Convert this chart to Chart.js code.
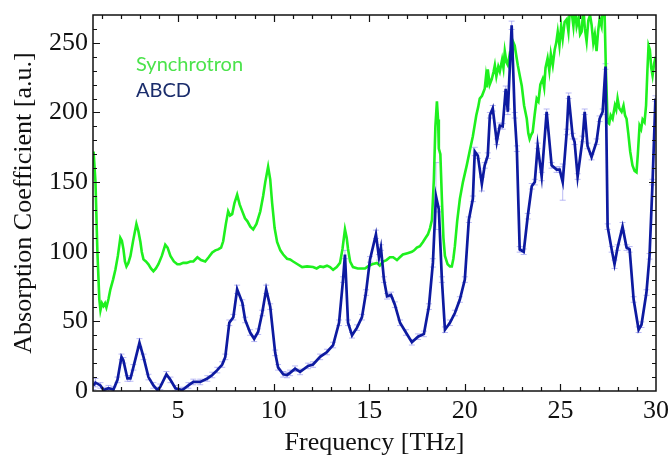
<!DOCTYPE html>
<html>
<head>
<meta charset="utf-8">
<script src="https://cdn.jsdelivr.net/npm/chart.js@4.4.0/dist/chart.umd.min.js"></script>
<style>
  html, body { margin: 0; padding: 0; background: #ffffff; }
</style>
</head>
<body>
<canvas id="chart" width="671" height="467"></canvas>
<script>
// Synchrotron spectrum (green)
const synFreq = [0.58, 0.68, 0.78, 0.88, 0.94, 1.02, 1.10, 1.18, 1.25, 1.36, 1.46, 1.60, 1.72, 1.85, 1.98, 2.06, 2.14, 2.22, 2.30, 2.40,
  2.51, 2.65, 2.82, 2.92, 3.03, 3.10, 3.19, 3.32, 3.45, 3.58, 3.71, 3.84, 3.97, 4.15, 4.33, 4.45, 4.60, 4.78, 4.96, 5.10,
  5.27, 5.45, 5.64, 5.80, 6.01, 6.20, 6.42, 6.60, 6.79, 6.95, 7.10, 7.25, 7.36, 7.50, 7.62, 7.72, 7.83, 7.95, 8.09, 8.22,
  8.36, 8.50, 8.62, 8.78, 8.93, 9.10, 9.30, 9.45, 9.56, 9.71, 9.82, 9.92, 10.05, 10.18, 10.35, 10.50, 10.70, 10.86, 11.02, 11.25,
  11.49, 11.75, 12.06, 12.25, 12.43, 12.60, 12.79, 12.95, 13.11, 13.30, 13.47, 13.60, 13.73, 13.82, 13.89, 14.00, 14.15, 14.40, 14.62, 14.78,
  14.93, 15.15, 15.40, 15.55, 15.72, 15.90, 16.08, 16.25, 16.45, 16.60, 16.76, 17.00, 17.23, 17.35, 17.49, 17.65, 17.81, 17.95, 18.07, 18.18,
  18.28, 18.38, 18.46, 18.54, 18.60, 18.64, 18.72, 18.80, 18.88, 18.96, 19.10, 19.22, 19.32, 19.40, 19.48, 19.60, 19.74, 19.90, 20.10, 20.25,
  20.42, 20.60, 20.70, 20.78, 20.90, 21.04, 21.10, 21.15, 21.20, 21.30, 21.41, 21.50, 21.57, 21.65, 21.75, 21.83, 21.95, 22.02, 22.09, 22.18,
  22.25, 22.35, 22.45, 22.55, 22.61, 22.70, 22.77, 22.88, 22.98, 23.10, 23.24, 23.32, 23.39, 23.47, 23.55, 23.65, 23.76, 23.85, 23.95, 24.07,
  24.15, 24.22, 24.33, 24.42, 24.50, 24.60, 24.70, 24.78, 24.86, 24.95, 25.04, 25.12, 25.22, 25.33, 25.42, 25.50, 25.59, 25.68, 25.76, 25.85,
  25.95, 26.03, 26.11, 26.20, 26.28, 26.37, 26.46, 26.55, 26.63, 26.72, 26.80, 26.89, 26.97, 27.05, 27.15, 27.22, 27.31, 27.38, 27.47, 27.55,
  27.63, 27.73, 27.85, 27.92, 27.99, 28.08, 28.20, 28.30, 28.38, 28.46, 28.55, 28.65, 28.77, 28.88, 28.98, 29.05, 29.14, 29.22, 29.30, 29.40,
  29.48, 29.55, 29.61, 29.68, 29.75, 29.82, 29.90, 29.98];
const synValues = [172, 150, 100, 66, 58, 63, 61, 63, 60, 66, 73, 80, 87, 97, 110, 108, 102, 93, 89.5, 92,
  97, 108, 120, 115, 107, 100, 94.5, 93, 91, 88, 86, 88, 91, 97, 105, 103, 97, 93, 91, 91,
  92, 92, 93, 93, 96, 94, 93, 96, 99.5, 101, 101.7, 103, 107.5, 120, 129, 126, 127, 135, 141, 134,
  129, 124, 122, 118, 116, 120, 129, 140, 150, 161, 152, 135, 117, 107, 101, 98, 95, 94.5, 93, 91,
  89, 89.5, 89, 88, 89.5, 89, 90, 89, 87, 89, 92, 102, 116, 110, 102, 93, 89, 88, 88, 88,
  89.5, 91, 92, 90, 93, 94, 96, 96, 94, 96, 98, 99, 100, 101, 103, 104, 107, 110, 112.5, 117,
  123, 152, 190, 208, 195, 174, 170, 138, 110, 97, 91, 89.5, 89.5, 95, 104, 122, 138, 150, 162, 172,
  183, 198, 204, 210, 212, 217, 225, 218, 231, 220, 224, 229, 234, 226, 233, 229.5, 238, 232, 244, 236,
  234, 242, 240, 250, 248, 240, 234, 226, 219, 205, 195.5, 185, 181, 184, 186, 198, 210, 208, 220, 224,
  218, 232, 239, 230, 242, 234, 245, 250, 258, 248, 262, 253, 265, 267, 258, 275, 272, 262, 275, 262,
  268, 256, 258, 275, 260, 251, 266, 270, 263, 250, 256, 244, 258, 267, 262, 278, 272, 230, 193, 192,
  198, 195.5, 205, 202, 210, 203, 200.5, 205, 198, 195.5, 185, 172, 162, 158, 157, 170, 190.5, 188, 195, 193,
  205, 230, 248, 245, 232, 226.5, 235, 240];

// ABCD spectrum (dark blue) with error bars
const abcdFreq = [0.57, 0.68, 0.94, 1.10, 1.36, 1.62, 1.83, 2.04, 2.14, 2.35, 2.51, 2.66, 2.98, 3.19, 3.45, 3.71, 3.92, 4.07, 4.39, 4.60,
  4.86, 5.22, 5.54, 5.80, 6.16, 6.53, 6.79, 7.05, 7.31, 7.47, 7.68, 7.89, 8.09, 8.36, 8.51, 8.77, 8.98, 9.19, 9.40, 9.61,
  9.82, 10.08, 10.23, 10.50, 10.70, 10.86, 11.12, 11.38, 11.80, 12.06, 12.43, 12.79, 13.11, 13.42, 13.63, 13.73, 13.89, 14.10, 14.36, 14.62,
  14.83, 15.04, 15.35, 15.51, 15.61, 15.77, 15.93, 16.14, 16.34, 16.61, 16.92, 17.23, 17.55, 17.86, 18.12, 18.33, 18.49, 18.64, 18.80, 18.96,
  19.22, 19.48, 19.74, 20.00, 20.21, 20.42, 20.52, 20.68, 20.89, 21.04, 21.20, 21.31, 21.46, 21.67, 21.83, 21.98, 22.14, 22.25, 22.45, 22.61,
  22.72, 22.87, 23.08, 23.29, 23.50, 23.66, 23.81, 24.02, 24.28, 24.54, 24.80, 24.96, 25.12, 25.33, 25.43, 25.64, 25.74, 25.90, 26.16, 26.27,
  26.42, 26.63, 26.89, 27.05, 27.21, 27.36, 27.47, 27.68, 27.83, 27.99, 28.25, 28.46, 28.62, 28.83, 29.09, 29.24, 29.50, 29.66, 29.82, 29.97];
const abcdValues = [4, 6, 4, 0.7, 2, 1, 8, 24.5, 22, 9, 9, 17, 34.6, 24.5, 10, 4, 0.7, 3, 12, 8,
  2, 0.7, 4, 6.5, 6.5, 9, 11.5, 15, 19, 24.5, 49, 53, 73, 63.5, 51, 42, 37.5, 42.6, 56, 73,
  60.6, 27.4, 17, 12, 11.5, 13, 16, 13.7, 18, 19, 24.5, 28, 33, 49, 80, 98, 49, 40, 45.5, 53,
  70.7, 94.5, 112.5, 96, 103, 80, 68, 69, 62, 49, 42, 35, 39, 41, 60.6, 92, 140, 130.6, 80, 44,
  49, 56, 65.7, 80, 123, 138, 172, 169, 148.6, 162, 169, 198, 203, 179, 190.5, 190, 217, 200.5, 262.6, 198,
  174, 101.7, 100, 125.5, 147, 150, 176, 154, 200.5, 162, 159, 159, 150, 186, 212, 183, 179, 154, 181, 200.5,
  176, 168, 179, 195.5, 200.5, 233, 118, 101.7, 91, 103, 118, 103, 101.7, 65.7, 44, 47.6, 70.7, 96.7, 150, 210];
const abcdErr = [3, 3, 2, 2, 2, 2, 2, 2, 2, 2, 2, 2, 3, 2, 2, 2, 2, 2, 2, 2,
  2, 2, 2, 2, 2, 2, 2, 2, 2, 2, 2, 2, 3, 2, 2, 2, 2, 2, 2, 3,
  2, 2, 2, 2, 2, 2, 2, 2, 2, 2, 2, 2, 2, 2, 2, 3, 2, 2, 2, 2,
  2, 2, 3, 2, 2, 2, 2, 2, 2, 2, 2, 2, 2, 2, 2, 3, 24, 2, 2, 2,
  2, 2, 2, 2, 2, 2, 3, 2, 5, 2, 2, 2, 2, 2, 2, 2, 2, 2, 3, 2,
  2, 2, 2, 2, 2, 2, 2, 3, 2, 2, 2, 2, 13, 2, 2, 2, 2, 2, 2, 2,
  2, 2, 2, 2, 2, 2, 2, 2, 3, 2, 3, 2, 2, 2, 2, 2, 2, 2, 2, 2];

const xTickValues = [5, 10, 15, 20, 25, 30];
const yTickValues = [0, 50, 100, 150, 200, 250];

const toPoints = (xs, ys) => xs.map((x, i) => ({ x: x, y: ys[i] }));

// label overflow padding off, the layout padding decides the plot box
const noLabelPadding = (s) => {
    s.paddingTop = 0; s.paddingBottom = 0; s.paddingLeft = 0; s.paddingRight = 0;
};

// light blue error bars under the ABCD line
const errorBars = {
    id: 'errorBars',
    beforeDatasetsDraw(chart) {
        const { ctx, scales: { x, y }, chartArea } = chart;
        ctx.save();
        ctx.beginPath();
        ctx.rect(chartArea.left, chartArea.top, chartArea.right - chartArea.left, chartArea.bottom - chartArea.top);
        ctx.clip();
        ctx.strokeStyle = 'rgba(130, 130, 235, 0.55)';
        ctx.lineWidth = 1;
        abcdFreq.forEach((f, i) => {
            const px = x.getPixelForValue(f);
            const top = y.getPixelForValue(abcdValues[i] + abcdErr[i]);
            const bot = y.getPixelForValue(abcdValues[i] - abcdErr[i]);
            ctx.beginPath();
            ctx.moveTo(px, top); ctx.lineTo(px, bot);
            ctx.moveTo(px - 3, top); ctx.lineTo(px + 3, top);
            ctx.moveTo(px - 3, bot); ctx.lineTo(px + 3, bot);
            ctx.stroke();
        });
        ctx.restore();
    }
};

// box frame with inward ticks on all sides
const frameTicks = {
    id: 'frameTicks',
    afterDraw(chart) {
        const { ctx, scales: { x, y }, chartArea: a } = chart;
        ctx.save();
        ctx.strokeStyle = '#111111';
        ctx.lineWidth = 1.5;
        ctx.strokeRect(a.left, a.top, a.right - a.left, a.bottom - a.top);
        ctx.lineWidth = 1.2;
        ctx.beginPath();
        for (let v = 1; v <= 30; v++) {
            const px = Math.round(x.getPixelForValue(v)) + 0.5;
            if (px <= a.left + 1 || px >= a.right - 1) continue;
            const len = v % 5 === 0 ? 7 : 4;
            ctx.moveTo(px, a.bottom); ctx.lineTo(px, a.bottom - len);
            ctx.moveTo(px, a.top); ctx.lineTo(px, a.top + len);
        }
        for (let v = 10; v < 270; v += 10) {
            const py = Math.round(y.getPixelForValue(v)) + 0.5;
            const len = v % 50 === 0 ? 7 : 4;
            ctx.moveTo(a.left, py); ctx.lineTo(a.left + len, py);
            ctx.moveTo(a.right, py); ctx.lineTo(a.right - len, py);
        }
        ctx.stroke();
        ctx.restore();
    }
};

// text legend inside the plot
const textLegend = {
    id: 'textLegend',
    afterDraw(chart) {
        const { ctx } = chart;
        ctx.save();
        ctx.font = '20px Lato';
        ctx.textBaseline = 'alphabetic';
        ctx.fillStyle = '#4be34b';
        ctx.fillText('Synchrotron', 136, 71);
        ctx.fillStyle = '#1b2d6c';
        ctx.fillText('ABCD', 136, 97);
        ctx.restore();
    }
};

new Chart(document.getElementById('chart'), {
    type: 'line',
    data: {
        datasets: [{
            label: 'ABCD',
            data: toPoints(abcdFreq, abcdValues),
            borderColor: '#0d1aa0',
            borderWidth: 2.7,
            pointRadius: 0,
            tension: 0,
            order: 0
        }, {
            label: 'Synchrotron',
            data: toPoints(synFreq, synValues),
            borderColor: '#1ef01e',
            borderWidth: 2.6,
            pointRadius: 0,
            tension: 0,
            order: 1
        }]
    },
    options: {
        responsive: false,
        animation: false,
        devicePixelRatio: 1,
        layout: { padding: { top: 15, right: 15, left: 0, bottom: 0 } },
        plugins: {
            legend: { display: false },
            tooltip: { enabled: false }
        },
        scales: {
            x: {
                type: 'linear',
                min: 0.55,
                max: 30,
                afterBuildTicks: (s) => { s.ticks = xTickValues.map(v => ({ value: v })); },
                afterFit: (s) => { s.height = 76; noLabelPadding(s); },
                grid: { display: false, drawTicks: false },
                border: { display: false },
                ticks: {
                    padding: 5,
                    color: '#111111',
                    maxRotation: 0,
                    font: { family: 'Liberation Serif', size: 26 }
                },
                title: {
                    display: true,
                    text: 'Frequency [THz]',
                    color: '#111111',
                    padding: { top: 0, bottom: 8 },
                    font: { family: 'Liberation Serif', size: 26 }
                }
            },
            y: {
                type: 'linear',
                min: 0,
                max: 270,
                afterBuildTicks: (s) => { s.ticks = yTickValues.map(v => ({ value: v })); },
                afterFit: (s) => { s.width = 93; noLabelPadding(s); },
                grid: { display: false, drawTicks: false },
                border: { display: false },
                ticks: {
                    padding: 5,
                    color: '#111111',
                    font: { family: 'Liberation Serif', size: 26 }
                },
                title: {
                    display: true,
                    text: 'Absorption Coefficient [a.u.]',
                    color: '#111111',
                    padding: { top: 9, bottom: 0 },
                    font: { family: 'Liberation Serif', size: 26 }
                }
            }
        }
    },
    plugins: [errorBars, frameTicks, textLegend]
});
</script>
</body>
</html>
